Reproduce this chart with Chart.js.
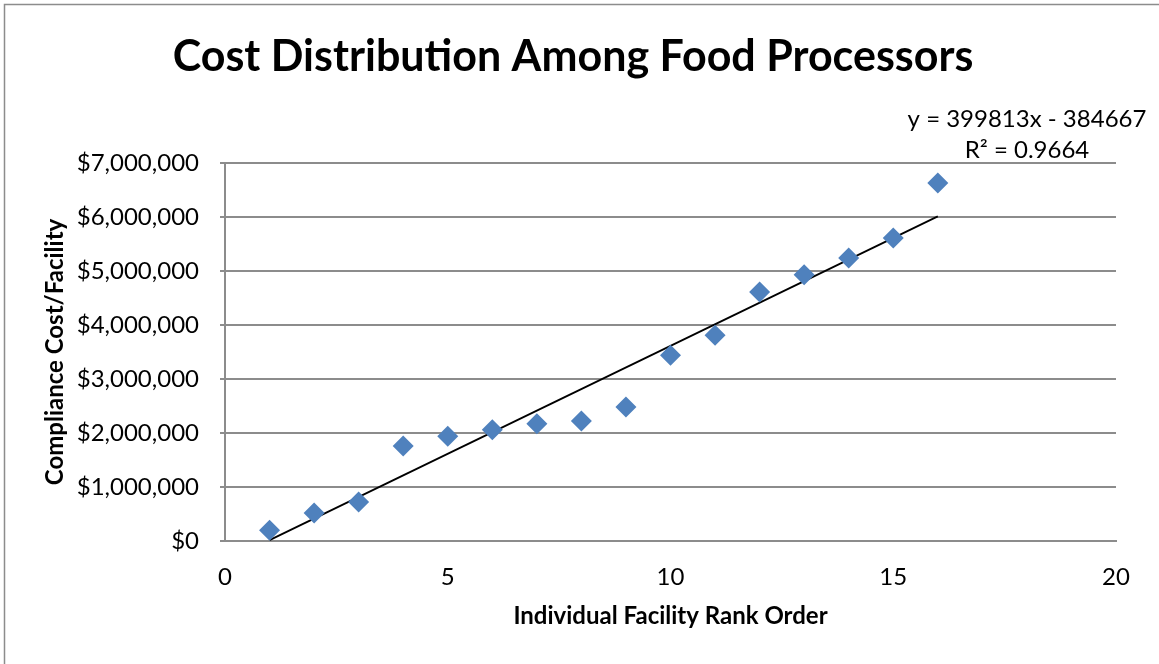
<!DOCTYPE html>
<html>
<head>
<meta charset="utf-8">
<script src="https://cdn.jsdelivr.net/npm/chart.js@4.4.0/dist/chart.umd.min.js"></script>
<style>
  html, body { margin: 0; padding: 0; background: #fff; }
  #wrap { width: 1159px; height: 664px; position: relative; }
</style>
</head>
<body>
<div id="wrap"><canvas id="chart" width="1159" height="664"></canvas></div>
<script>
// facility rank order and compliance cost per facility
const ranks = [1, 2, 3, 4, 5, 6, 7, 8, 9, 10, 11, 12, 13, 14, 15, 16];
const costs = [200000, 520000, 720000, 1760000, 1940000, 2060000, 2170000, 2220000,
               2480000, 3440000, 3810000, 4610000, 4930000, 5240000, 5610000, 6630000];

// linear trendline as reported on the chart
const slope = 399813;
const intercept = -384667;
const trendLabel = ['y = 399813x - 384667', 'R\u00b2 = 0.9664'];

const xTicks = [0, 5, 10, 15, 20];
const yTicks = [0, 1000000, 2000000, 3000000, 4000000, 5000000, 6000000, 7000000];

const FONT = "Lato, 'Open Sans', sans-serif";

const points = ranks.map((r, i) => ({ x: r, y: costs[i] }));
const first = ranks[0], last = ranks[ranks.length - 1];
const trend = [first, last].map(x => ({ x: x, y: slope * x + intercept }));

const frame = {
  id: 'frame',
  afterDraw(chart) {
    const ctx = chart.ctx;
    ctx.save();
    ctx.strokeStyle = '#8c8c8c';
    ctx.lineWidth = 1.5;
    ctx.beginPath();
    ctx.moveTo(4.5, 700);
    ctx.lineTo(4.5, 4.5);
    ctx.lineTo(1200, 4.5);
    ctx.stroke();

    // trendline equation label
    ctx.fillStyle = '#000';
    ctx.font = '24px ' + FONT;
    ctx.textAlign = 'center';
    ctx.textBaseline = 'middle';
    ctx.fillText(trendLabel[0], 1027, 119);
    ctx.fillText(trendLabel[1], 1027, 150);
    ctx.restore();
  }
};

new Chart(document.getElementById('chart'), {
  type: 'scatter',
  data: {
    datasets: [
      {
        label: 'Cost',
        data: points,
        pointStyle: 'rectRot',
        pointRadius: 10.5,
        pointHoverRadius: 10.5,
        backgroundColor: '#4f81bd',
        borderColor: '#4f81bd',
        borderWidth: 0
      },
      {
        label: 'Trend',
        type: 'line',
        data: trend,
        borderColor: '#000',
        borderWidth: 1.8,
        pointRadius: 0,
        fill: false
      }
    ]
  },
  options: {
    responsive: false,
    animation: false,
    layout: { padding: { left: 30, right: 43, top: 10, bottom: 20 } },
    plugins: {
      legend: { display: false },
      tooltip: { enabled: false },
      title: {
        display: true,
        text: 'Cost Distribution Among Food Processors',
        color: '#000',
        font: { family: FONT, size: 43, weight: 'bold' },
        padding: { top: 21, bottom: 80.4 }
      }
    },
    scales: {
      x: {
        type: 'linear',
        min: 0,
        max: 20,
        afterBuildTicks(axis) { axis.ticks = xTicks.map(v => ({ value: v })); },
        afterFit(axis) { axis.height = 103; },
        grid: { display: false, drawTicks: false },
        border: { display: true, color: '#8c8c8c', width: 2 },
        ticks: { color: '#000', font: { family: FONT, size: 24 }, padding: 22, maxRotation: 0 },
        title: {
          display: true,
          text: 'Individual Facility Rank Order',
          color: '#000',
          font: { family: FONT, size: 24, weight: 'bold' },
          padding: { top: 0, bottom: 13 }
        }
      },
      y: {
        min: 0,
        max: 7000000,
        afterBuildTicks(axis) { axis.ticks = yTicks.map(v => ({ value: v })); },
        afterFit(axis) { axis.width = 195; },
        grid: { color: '#8c8c8c', lineWidth: 2, tickLength: 5 },
        border: { display: true, color: '#8c8c8c', width: 2 },
        ticks: {
          color: '#000',
          font: { family: FONT, size: 24 },
          padding: 21,
          callback: v => '$' + v.toLocaleString('en-US')
        },
        title: {
          display: true,
          text: 'Compliance Cost/Facility',
          color: '#000',
          font: { family: FONT, size: 24, weight: 'bold' },
          padding: { top: 11, bottom: 0 }
        }
      }
    }
  },
  plugins: [frame]
});
</script>
</body>
</html>
